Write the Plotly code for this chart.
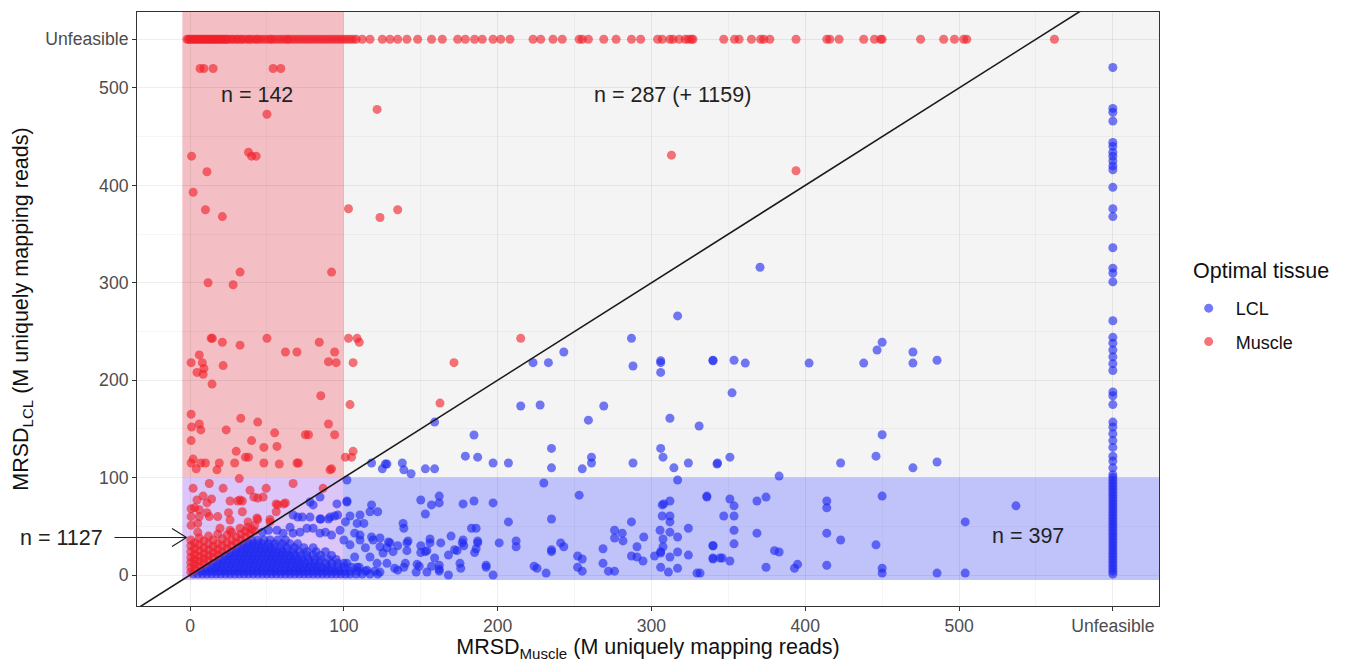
import plotly.graph_objects as go

# ---------------- data ----------------
UNF_X = 600   # position of "Unfeasible" on the x axis
UNF_Y = 550   # position of "Unfeasible" on the y axis

x_tick_vals = [0, 100, 200, 300, 400, 500, UNF_X]
x_tick_text = ["0", "100", "200", "300", "400", "500", "Unfeasible"]
y_tick_vals = [0, 100, 200, 300, 400, 500, UNF_Y]
y_tick_text = ["0", "100", "200", "300", "400", "500", "Unfeasible"]

# Muscle optimal, LCL unfeasible (top row)
muscle_unf_x = [-2, -1, 0, 1, 2, 3, 4, 5, 6, 7, 8, 9, 10, 11, 12, 13, 14, 15, 16, 17, 18, 19, 20,
                21, 22, 23, 24, 25, 27, 28, 30, 31, 33, 34, 36, 38, 39, 41, 43, 44, 46, 48, 50,
                52, 53, 55, 57, 59, 61, 63, 64, 66, 68, 70, 72, 74, 76, 78, 80, 82, 84, 86, 88,
                90, 92, 94, 96, 98, 100, 102, 104, 106, 108,
                112, 117, 125, 130, 135, 141, 148, 157, 164, 174, 179, 185, 190, 197, 202, 208,
                223, 228, 236, 242, 253, 255, 259, 269, 277, 287, 293, 304, 307, 312, 314, 318,
                322, 324, 326, 327, 347, 354, 357, 365, 371, 373, 377, 394, 414, 416, 422, 438,
                445, 449, 450, 475, 490, 497, 503, 505, 562]

# Muscle optimal, both feasible (scattered points)
muscle_x = [6.5, 9, 15, 54, 59, 121.6, 50, 1, 38, 40, 43, 11, 2, 10, 21, 103, 123.5, 135, 313, 394,
            32.5, 92, 11.7, 28, 13.7, 14.5, 21, 32.5, 50, 84, 103, 108.6, 110, 6, 0.7, 8, 9, 4.5,
            8.5, 21.5, 62, 69.5, 94, 90, 95, 106, 14.3, 85, 104, 0.7, 33, 44, 6, 1, 7, 23.5, 90,
            55, 75, 77, 94, 0.7, 40, 56.5, 48, 30, 36, 38, 106, 101, 105, 2, 0.7, 7, 10, 19, 29,
            48, 58, 69.5, 70.5, 4, 17.5, 92, 171.6, 215, 162.5, 91,
            12.5, 32, 67, 21.5, 39, 49.5, 86.5, 8.5, 14, 41.5, 44, 47.5, 11, 26, 31, 34, 56, 61,
            56, 0.7, 3, 6, 11, 0.7, 6, 12.5, 18, 25, 34, 44, 52, 0.7, 5, 5, 19.5, 26, 32.5, 37.5,
            40, 62, 57, 26, 32.5, 2, 4.5, 43.5, 37.7, 52]
muscle_y = [520, 520, 520, 520, 520, 478, 473, 430, 434, 430, 430, 414, 393, 375, 368, 376, 367, 375, 431, 415,
            311, 311, 300, 298, 243, 243, 239, 236, 243, 239, 243, 243, 239, 226, 218, 218, 212, 208,
            206, 215, 229, 229, 229, 219, 218, 218, 196, 184, 175, 165, 161, 157, 155, 152, 149, 149, 155,
            146, 144, 144, 144, 138, 138, 132, 131, 127, 121, 121, 127, 121, 121, 119, 115, 115, 115, 115, 115,
            115, 114, 115, 115, 109, 108, 109, 218, 243, 176.5, 108,
            94, 99, 94, 89, 87, 89, 89, 81, 78, 80, 79, 80, 74, 76, 76, 76, 73, 73,
            65, 68, 69, 67, 64, 60, 60, 60, 60, 64, 65, 57, 54.5, 51, 53, 44, 48, 46, 48, 49,
            47, 74, 72, 56.5, 77, 89, 77, 58.5, 54.5, 57]

# Muscle optimal: dense wedge near the origin, read column by column (x, [y values])
muscle_dense = [
    (0.5, [3, 8, 13, 18, 24, 30, 36]),
    (3, [6, 11, 16, 21, 27, 33]),
    (6, [9, 14, 19, 25, 31, 38]),
    (9, [12, 17, 22, 28, 35]),
    (12, [15, 20, 26, 32, 40]),
    (15, [18, 23, 29, 36]),
    (18, [21, 26, 32, 42]),
    (21, [24, 30, 37]),
    (24, [27, 33, 41]),
    (27, [30, 36, 44]),
    (30, [33, 39]),
    (33, [36, 42]),
    (36, [39, 45]),
    (39, [42]),
    (42, [45, 51]),
]

# LCL optimal, Muscle unfeasible (right column)
lcl_unf_y = [521, 479, 475, 466, 444, 440, 434, 430, 425, 420, 416, 398, 376, 368, 336, 315, 310, 301,
             261, 244, 238, 231, 224, 217, 210, 188, 184, 175, 157, 152, 145, 138, 131, 122, 117, 110,
             103, 100, 97, 94, 91, 88, 85, 82, 79, 76, 73, 70, 67, 64, 61, 58, 55, 52, 49, 46, 43,
             40, 37, 34, 31, 28, 25, 22, 19, 16, 13, 10, 7, 4, 1]

# LCL optimal, both feasible (scattered points)
lcl_x = [317, 287, 288, 306, 306, 306, 340, 223, 233, 243, 215, 227.6, 269, 259, 312, 331, 159, 184.6,
         235, 306, 179, 187, 307.5, 261, 261, 118, 125, 127, 128, 138, 139, 143.7, 153, 159, 197, 207,
         235, 255, 288, 314.6, 324, 343, 102,
         370.6, 340, 353.7, 361, 402.5, 438, 446.7, 450, 470, 470, 485.7, 352.4, 342.6, 351, 383, 423,
         446, 450, 470, 485.7,
         336, 351, 353.7, 347, 353.7, 368.6, 374.5, 414, 414, 450, 537, 504, 353.7, 368.6, 414, 423,
         340, 353.7, 446, 380, 383, 340, 346, 351, 374.5, 393, 395, 414, 450, 450, 485.7, 504, 331.6,
         230, 253, 317, 336, 102, 118, 122, 150, 153, 157, 162, 162, 177.5, 184.6, 197, 307, 308, 312,
         307, 312, 312, 235, 207, 287, 104, 101, 108.6, 113, 138.5, 139, 183, 186, 324, 276, 281,
         305.6, 307.5, 312, 295, 317, 169.7, 141.7, 156, 177.5, 177, 187, 187, 201, 212, 212, 241, 243,
         276, 281.5, 340, 340, 344.6, 290.6, 307.5, 306, 235, 235, 268.5, 135, 141, 150, 153, 154, 159,
         168, 173.6, 186, 185, 252, 255, 287, 290.6, 294.5, 306, 312, 317, 324, 302, 140, 139, 147.6,
         149, 157, 162, 162, 175.5, 176, 192.5, 192.5, 197, 168, 223.7, 225.6, 231.5, 252, 255, 268.5,
         272, 276, 306, 311, 317, 329.6, 135, 147, 154, 162,
         100, 104, 107, 110.5, 114, 117, 121.6, 125.5, 130, 133, 102, 108.6, 115, 123.5, 128, 119,
         123.5, 128, 132, 107, 110.5, 118, 123.5, 129,
         78, 80, 84.5, 95.5, 102, 67, 73, 78, 94, 96, 84.5, 90, 47, 51, 56.5, 60.5, 67, 71.5, 76, 80,
         84.5, 88, 92, 97.5, 85, 91, 70, 65, 110.5, 117, 141, 150, 156, 163, 172, 178]
lcl_y = [266, 243, 214.6, 220, 218, 208, 220, 218, 218, 229, 173.5, 174.5, 173.5, 159, 161, 153, 157, 143.7,
         130, 130, 122, 121, 121, 121, 115, 115, 109, 114, 114, 115, 108, 104, 109, 109, 115, 115,
         110, 109, 115, 110, 115, 115, 97.5,
         316, 220.5, 220.5, 217.6, 217.6, 217.6, 231, 239, 229, 217.6, 220.5, 187, 114, 121, 101.6, 115,
         122, 144, 110, 116,
         80, 78, 71, 60.6, 60.6, 76, 80, 76, 69, 81, 71, 54.5, 46, 43, 43, 36,
         30, 32, 31, 25, 23.6, 16.4, 17.5, 14.4, 8, 7, 11, 10, 7, 2, 2, 2, 2,
         94.5, 82, 97.5, 81, 76, 72, 65, 77, 62.6, 72, 81, 74, 73, 76, 74, 72, 73, 76,
         60.6, 60.6, 54.5, 57.5, 54.5, 54.5, 60.6, 54.5, 53, 53, 53, 48, 48, 48, 48, 46, 43,
         46, 37, 44, 39, 39, 40, 35, 33, 36, 33, 35, 33, 33, 35, 29, 33, 29,
         38, 35, 30, 17.5, 17.5, 29, 29, 24, 26, 24, 27, 30, 25, 23, 24, 25, 17.5,
         20.5, 25, 27, 23, 19.5, 16.4, 19.5, 18.5, 14.4, 22.6, 18.5, 23.6, 20.5, 19.5, 12, 8, 11,
         9, 9, 10, 6, 12, 7, 10, 8, 0, 0, 9, 7, 2, 8, 4, 12,
         4, 4, 8, 3, 7, 2, 5, 3, 3, 4,
         36, 31, 43, 36, 28, 18.5, 12, 22.6, 33, 7, 12, 8, 5, 3, 12, 36,
         29, 28, 24, 18.5, 41, 39, 38, 34,
         75, 72, 80, 73, 75, 61.6, 59.5, 59.5, 60.6, 61.6, 57.5, 57.5, 44, 46, 46, 43, 43, 44, 48, 48,
         43, 44, 41, 46, 57.5, 59.5, 59.5, 49, 61.6, 65, 33, 30, 37, 33, 26, 30]

# LCL optimal: dense core near the origin, read row by row (y, [x values])
lcl_dense = [
    (1, [2, 5, 8, 11, 14, 17, 20, 23, 26, 29, 32, 35, 38, 41, 44, 47, 50, 53, 56, 59, 62, 65, 68, 71,
         74, 77, 80, 83, 86, 89, 92, 95, 98, 101, 104, 108, 112, 117, 122]),
    (4, [7, 10, 13, 16, 19, 22, 25, 28, 31, 34, 37, 40, 43, 46, 49, 52, 55, 58, 61, 64, 67, 70, 73,
         76, 79, 82, 85, 88, 91, 94, 97, 100, 104, 109, 114, 120]),
    (8, [11, 14, 17, 20, 23, 26, 29, 32, 35, 38, 41, 44, 47, 50, 53, 56, 59, 62, 65, 68, 71, 74, 77,
         80, 83, 86, 89, 92, 96, 100, 105, 110]),
    (12, [15, 18, 21, 24, 27, 30, 33, 36, 39, 42, 45, 48, 51, 54, 57, 60, 63, 66, 69, 72, 75, 78, 81,
          84, 88, 92, 96, 100]),
    (16, [19, 22, 25, 28, 31, 34, 37, 40, 43, 46, 49, 52, 55, 58, 61, 64, 67, 70, 73, 77, 81, 85, 90, 95]),
    (20, [23, 26, 29, 32, 35, 38, 41, 44, 47, 50, 53, 56, 59, 62, 65, 68, 72, 76, 80, 85, 92]),
    (24, [27, 30, 33, 36, 39, 42, 45, 48, 51, 54, 57, 60, 63, 67, 71, 76, 82, 88]),
    (28, [31, 34, 37, 40, 43, 46, 49, 52, 55, 59, 63, 68, 74, 80]),
    (32, [35, 38, 41, 44, 47, 51, 55, 60, 65, 70]),
    (36, [40, 44, 48, 52, 57, 62]),
]

# rectangles (data units) and count labels
box_edge = -5
cut = 100
labels = ["n = 142", "n = 287 (+ 1159)", "n = 397"]
label_x = [43.6, 314, 545]
label_y = [493, 493, 40]
n_left_text = "n = 1127"
n_left_y = 38.5

# ---------------- figure ----------------
X_RANGE = [-34.5, 630]
Y_RANGE = [-31.8, 578]

RED = "rgb(240,30,40)"
BLUE = "rgb(30,40,240)"
FONT = "Liberation Sans, Arial, sans-serif"

lcl_all_x = list(lcl_x)
lcl_all_y = list(lcl_y)
for yv, xs in lcl_dense:
    lcl_all_x += xs
    lcl_all_y += [yv] * len(xs)
lcl_all_x += [UNF_X] * len(lcl_unf_y)
lcl_all_y += lcl_unf_y

mus_all_x = list(muscle_x)
mus_all_y = list(muscle_y)
for xv, ys in muscle_dense:
    mus_all_x += [xv] * len(ys)
    mus_all_y += ys
mus_all_x += muscle_unf_x
mus_all_y += [UNF_Y] * len(muscle_unf_x)

fig = go.Figure()

fig.add_trace(go.Scatter(
    x=lcl_all_x, y=lcl_all_y,
    mode="markers", name="LCL", legendgroup="a",
    marker=dict(color=BLUE, size=9, opacity=0.62, line=dict(width=0)),
))
fig.add_trace(go.Scatter(
    x=mus_all_x, y=mus_all_y,
    mode="markers", name="Muscle", legendgroup="b",
    marker=dict(color=RED, size=9, opacity=0.62, line=dict(width=0)),
))
# identity line
fig.add_trace(go.Scatter(
    x=[X_RANGE[0] - 10, X_RANGE[1]], y=[X_RANGE[0] - 10, X_RANGE[1]],
    mode="lines", line=dict(color="#1a1a1a", width=1.6), showlegend=False, hoverinfo="skip",
))

shapes = [
    dict(type="rect", xref="x", yref="y", x0=box_edge, x1=X_RANGE[1], y0=box_edge, y1=Y_RANGE[1],
         fillcolor="#F3F4F3", line=dict(width=0), layer="below"),
    dict(type="rect", xref="x", yref="y", x0=box_edge, x1=cut, y0=cut, y1=Y_RANGE[1],
         fillcolor="#F4BFC4", line=dict(width=0), layer="below"),
    dict(type="rect", xref="x", yref="y", x0=box_edge, x1=cut, y0=box_edge, y1=cut,
         fillcolor="#DCC5F8", line=dict(width=0), layer="below"),
    dict(type="rect", xref="x", yref="y", x0=cut, x1=X_RANGE[1], y0=box_edge, y1=cut,
         fillcolor="#BFC3FA", line=dict(width=0), layer="below"),
]

annotations = []
for t, lx, ly in zip(labels, label_x, label_y):
    annotations.append(dict(x=lx, y=ly, xref="x", yref="y", text=t, showarrow=False,
                            font=dict(family=FONT, size=21.5, color="#222222")))
# left label with arrow (text box padded so the arrow starts where the reference's does)
annotations.append(dict(x=-2.3, y=n_left_y, xref="x", yref="y", text=n_left_text,
                        showarrow=True, arrowhead=0, arrowwidth=1.2, arrowcolor="#222222",
                        ax=-125, ay=0, axref="pixel", ayref="pixel", borderpad=11,
                        font=dict(family=FONT, size=21.5, color="#222222")))
for ax_, ay_ in [(-16, -10), (-16, 10)]:
    annotations.append(dict(x=-2.3, y=n_left_y, xref="x", yref="y", text="", showarrow=True,
                            arrowhead=0, arrowwidth=1.2, arrowcolor="#222222",
                            ax=ax_, ay=ay_, axref="pixel", ayref="pixel"))
# legend title
annotations.append(dict(x=1.0313, y=0.564, xref="paper", yref="paper", text="Optimal tissue",
                        xanchor="left", yanchor="middle", showarrow=False,
                        font=dict(family=FONT, size=21.5, color="#111111")))

grid_major = "rgba(0,0,0,0.065)"
grid_minor = "rgba(0,0,0,0.035)"

fig.update_layout(
    width=1346, height=662,
    margin=dict(l=137, r=187, t=12, b=56),
    paper_bgcolor="white", plot_bgcolor="white",
    font=dict(family=FONT, color="#222222"),
    shapes=shapes, annotations=annotations,
    showlegend=True,
    legend=dict(
        font=dict(family=FONT, size=18, color="#111111"),
        x=1.0222, xanchor="left", y=0.532, yanchor="top",
        tracegroupgap=7, itemwidth=44, bgcolor="rgba(0,0,0,0)",
    ),
    xaxis=dict(
        range=X_RANGE, tickvals=x_tick_vals, ticktext=x_tick_text,
        showgrid=True, gridcolor=grid_major, gridwidth=1.3, zeroline=False,
        showline=True, mirror=True, linecolor="#333333", linewidth=1,
        ticks="outside", ticklen=4, tickcolor="#333333", tickwidth=1,
        tickfont=dict(family=FONT, size=17.6, color="#4D4D4D"),
        minor=dict(tickvals=[50, 150, 250, 350, 450, 550], showgrid=True,
                   gridcolor=grid_minor, gridwidth=0.8, ticks=""),
        title=dict(text="MRSD<sub>Muscle</sub> (M uniquely mapping reads)",
                   font=dict(family=FONT, size=21.5, color="#111111"), standoff=4),
        automargin=False,
    ),
    yaxis=dict(
        range=Y_RANGE, tickvals=y_tick_vals, ticktext=y_tick_text,
        showgrid=True, gridcolor=grid_major, gridwidth=1.3, zeroline=False,
        showline=True, mirror=True, linecolor="#333333", linewidth=1,
        ticks="outside", ticklen=4, tickcolor="#333333", tickwidth=1,
        tickfont=dict(family=FONT, size=17.6, color="#4D4D4D"),
        minor=dict(tickvals=[50, 150, 250, 350, 450], showgrid=True,
                   gridcolor=grid_minor, gridwidth=0.8, ticks=""),
        title=dict(text="MRSD<sub>LCL</sub> (M uniquely mapping reads)",
                   font=dict(family=FONT, size=21.5, color="#111111"), standoff=10),
        automargin=False,
    ),
)

fig.write_html("out.html", config={"displayModeBar": False},
               post_script="document.body.style.margin='0px';")
